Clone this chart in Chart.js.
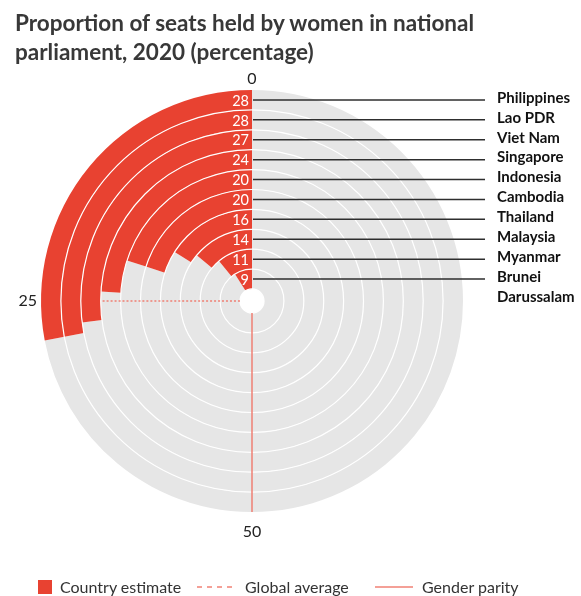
<!doctype html>
<html>
<head>
<meta charset="utf-8">
<title>Proportion of seats held by women in national parliament, 2020</title>
<script src="https://cdn.jsdelivr.net/npm/chart.js"></script>
<style>
  body { margin: 0; background: #fff; font-family: Lato, "Open Sans", sans-serif; }
  #wrap { position: relative; width: 581px; height: 596px; overflow: hidden; }
  #chart { position: absolute; left: 0; top: 0; }
  h1 { position: absolute; left: 15px; top: 8px; margin: 0; font-size: 22.5px; line-height: 29px; font-weight: 700; color: #383838; white-space: nowrap; }
  .lg { position: absolute; font-size: 16px; line-height: 18px; color: #333; top: 578px; white-space: nowrap; }
  .sw { position: absolute; left: 38px; top: 580px; width: 14px; height: 14px; background: #e84231; }
  .ln { position: absolute; top: 586px; height: 2px; }
</style>
</head>
<body>
<div id="wrap">
  <canvas id="chart" width="581" height="596"></canvas>
  <h1>Proportion of seats held by women in national<br>parliament, 2020 (percentage)</h1>

  <!-- legend -->
  <div class="sw"></div>
  <div class="lg" style="left:60px">Country estimate</div>
  <div class="ln" style="left:197px;width:37px;background:repeating-linear-gradient(90deg,#f4a097 0 5px,transparent 5px 10px)"></div>
  <div class="lg" style="left:245px">Global average</div>
  <div class="ln" style="left:375px;width:38px;background:#f4a097"></div>
  <div class="lg" style="left:422px">Gender parity</div>
</div>

<script>
// data, outermost ring first
const countries = ['Philippines', 'Lao PDR', 'Viet Nam', 'Singapore', 'Indonesia',
                   'Cambodia', 'Thailand', 'Malaysia', 'Myanmar', 'Brunei Darussalam'];
const values = [28, 28, 27, 24, 20, 20, 16, 14, 11, 9];
const scaleTicks = [0, 25, 50];
const globalAverage = 25;
const genderParity = 50;

const RED = '#e84231';
const GREY = '#e6e6e6';

// value (0-100) -> canvas angle, counter-clockwise from the top
function angleOf(v) {
    return -Math.PI / 2 - v / 100 * Math.PI * 2;
}

const overlay = {
    id: 'overlay',
    afterDatasetsDraw(chart) {
        const ctx = chart.ctx;
        const arcs = chart.data.datasets.map((d, i) => chart.getDatasetMeta(i).data[1]);
        const cx = arcs[0].x, cy = arcs[0].y;
        const R = arcs[0].outerRadius;
        const hole = arcs[arcs.length - 1].innerRadius;

        ctx.save();

        // white circles between rings
        ctx.strokeStyle = '#fff';
        ctx.lineWidth = 1.2;
        arcs.forEach(a => {
            ctx.beginPath();
            ctx.arc(cx, cy, a.innerRadius, 0, Math.PI * 2);
            ctx.stroke();
        });

        // global average, only over the grey part of each ring
        const ga = angleOf(globalAverage);
        ctx.strokeStyle = '#ef7f73';
        ctx.lineWidth = 1.5;
        ctx.setLineDash([2, 2]);
        arcs.forEach((a, i) => {
            if (values[i] >= globalAverage) return;
            ctx.beginPath();
            ctx.moveTo(cx + a.innerRadius * Math.cos(ga), cy + a.innerRadius * Math.sin(ga));
            ctx.lineTo(cx + a.outerRadius * Math.cos(ga), cy + a.outerRadius * Math.sin(ga));
            ctx.stroke();
        });
        ctx.setLineDash([]);

        // gender parity
        const gp = angleOf(genderParity);
        ctx.strokeStyle = '#ef7f73';
        ctx.lineWidth = 1.5;
        ctx.beginPath();
        ctx.moveTo(cx + hole * Math.cos(gp), cy + hole * Math.sin(gp));
        ctx.lineTo(cx + R * Math.cos(gp), cy + R * Math.sin(gp));
        ctx.stroke();

        // leader lines, values and country names
        arcs.forEach((a, i) => {
            const y = cy - (a.innerRadius + a.outerRadius) / 2;
            ctx.strokeStyle = '#2e2e2e';
            ctx.lineWidth = 1.5;
            ctx.beginPath();
            ctx.moveTo(cx + 1, y);
            ctx.lineTo(485, y);
            ctx.stroke();

            ctx.fillStyle = '#fff';
            ctx.font = '14.5px Lato';
            ctx.textAlign = 'right';
            ctx.textBaseline = 'middle';
            ctx.fillText(values[i], cx - 3, y + 1);

            ctx.fillStyle = '#111';
            ctx.font = 'bold 15px Lato';
            ctx.textAlign = 'left';
            const parts = countries[i] === 'Brunei Darussalam' ? ['Brunei', 'Darussalam'] : [countries[i]];
            parts.forEach((p, k) => ctx.fillText(p, 497, y - 2 + k * 20));
        });

        // scale labels round the disc, pushed out by half their box
        ctx.fillStyle = '#222';
        ctx.font = '16px Lato';
        ctx.textAlign = 'center';
        ctx.textBaseline = 'middle';
        scaleTicks.forEach(t => {
            const an = angleOf(t);
            const w = ctx.measureText(String(t)).width;
            const ux = Math.cos(an), uy = Math.sin(an);
            const r = R + 4 + Math.abs(ux) * w / 2 + Math.abs(uy) * 7 + (uy > 0 ? 9 : 0);
            ctx.fillText(t, cx + r * ux, cy + r * uy);
        });

        ctx.restore();
    }
};

new Chart(document.getElementById('chart'), {
    type: 'doughnut',
    data: {
        labels: ['rest', 'Country estimate'],
        datasets: values.map((v, i) => ({
            label: countries[i],
            data: [100 - v, v],
            backgroundColor: [GREY, RED],
            borderWidth: 0,
            hoverOffset: 0
        }))
    },
    options: {
        responsive: false,
        animation: false,
        cutout: '5.7%',
        rotation: 0,
        layout: { padding: { left: 41, right: 118, top: 90, bottom: 84 } },
        plugins: {
            legend: { display: false },
            tooltip: { enabled: false }
        }
    },
    plugins: [overlay]
});
</script>
</body>
</html>
